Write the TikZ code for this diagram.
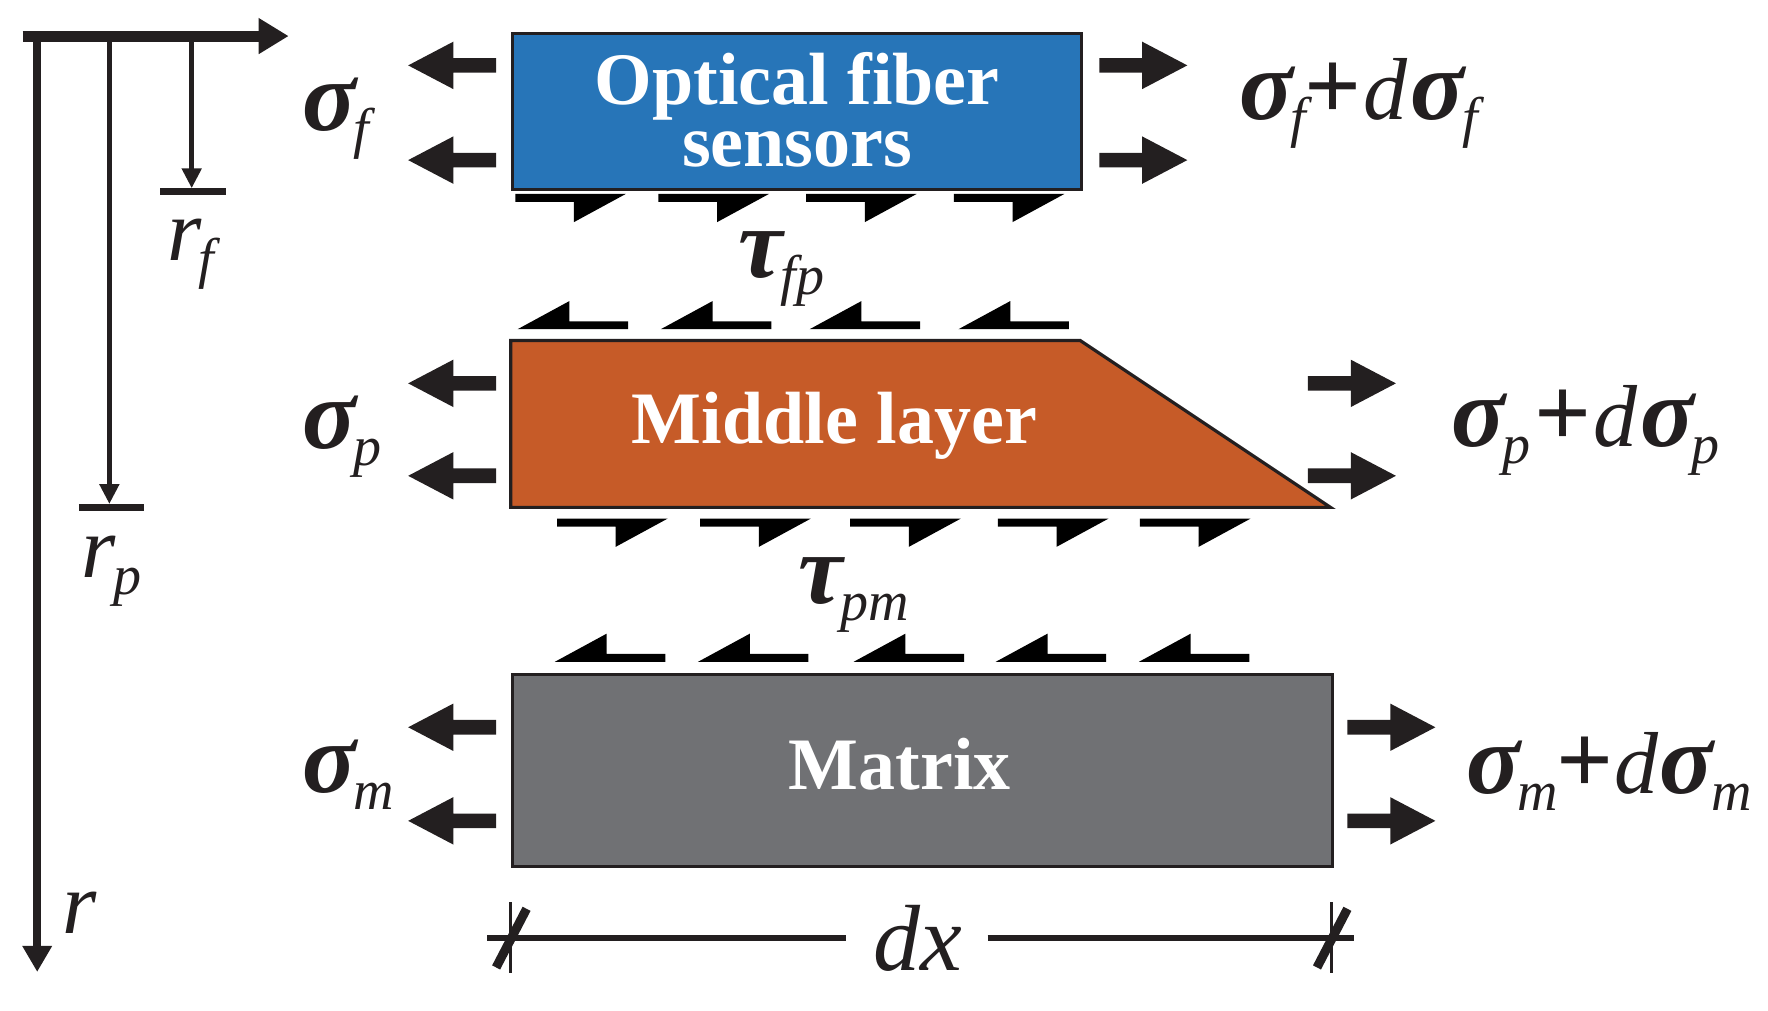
\documentclass[tikz,border=0pt]{standalone}
\usepackage{fontspec}
\setmainfont{Liberation Serif}
\usetikzlibrary{arrows.meta}
\definecolor{ink}{HTML}{231F20}
\definecolor{fiberblue}{HTML}{2775B8}
\definecolor{midorange}{HTML}{C65B28}
\definecolor{matgray}{HTML}{707174}
\newcommand\bigmath{\fontsize{44}{44}\selectfont\itshape}
\newcommand\submath{\fontsize{28}{28}\selectfont\mdseries\itshape}
\newcommand\withsub[2]{#1\kern-0.03em\raisebox{-8.5pt}{\submath #2}}
\newcommand\sg{{\fontsize{50}{50}\selectfont\bfseries\itshape σ}}
\newcommand\ta{{\fontsize{50}{50}\selectfont\bfseries\itshape τ}}
\newcommand\pl{{\fontsize{50}{50}\selectfont\bfseries\upshape +}}
\begin{document}
\begin{tikzpicture}[x=0.5638pt,y=-0.5638pt,
  layer/.style={draw=ink, line width=1.6pt},
  layertext/.style={font=\bfseries\fontsize{37}{31}\selectfont, text=white, align=center, inner sep=0},
  mathlabel/.style={font=\bigmath, text=ink, inner sep=0, anchor=base west},
  axisline/.style={draw=ink, line cap=butt},
  forceL/.pic={\fill[ink] (0,-6.5) -- (-38,-6.5) -- (-38,-21) -- (-78,0) -- (-38,21) -- (-38,6.5) -- (0,6.5) -- cycle;},
  forceR/.pic={\fill[ink] (0,-6.5) -- (38,-6.5) -- (38,-21) -- (78,0) -- (38,21) -- (38,6.5) -- (0,6.5) -- cycle;},
  shearR/.pic={\fill[black] (0,0) -- (98,0) -- (52,25) -- (52,7) -- (0,7) -- cycle;},
  shearL/.pic={\fill[black] (0,0) -- (98,0) -- (98,-7) -- (46,-7) -- (46,-25) -- cycle;},
]
\useasboundingbox (0,0) rectangle (1568,896);

% ---------- coordinate axes ----------
\coordinate (O) at (20,32);
\coordinate (xtip) at (256,32);
\coordinate (rtop) at (33,32);
\coordinate (rtip) at (33,862);
\coordinate (rptop) at (97,32);
\coordinate (rpend) at (97,447);
\coordinate (rftop) at (170,32);
\coordinate (rfend) at (170,167);
\draw[axisline, line width=5.5pt, -{Triangle[length=15pt,width=17pt]}] (O) -- (xtip);
\draw[axisline, line width=4pt, -{Triangle[length=13pt,width=14pt]}] (rtop) -- (rtip);
\draw[axisline, line width=2.5pt, -{Triangle[length=10pt,width=9.5pt]}] (rptop) -- (rpend);
\draw[axisline, line width=2.5pt, -{Triangle[length=10pt,width=9.5pt]}] (rftop) -- (rfend);
\coordinate (rpbarL) at (70,450);
\coordinate (rpbarR) at (128,450);
\coordinate (rfbarL) at (142,170);
\coordinate (rfbarR) at (200,170);
\draw[axisline, line width=3.3pt] (rpbarL) -- (rpbarR);
\draw[axisline, line width=3.3pt] (rfbarL) -- (rfbarR);
\node[mathlabel] (rf) at (148,231) {\withsub{r}{f}};
\node[mathlabel] (rp) at (72,512) {\withsub{r}{p}};
\node[mathlabel] (r) at (55,828) {r};

% ---------- layers ----------
\node[layer, fill=fiberblue, minimum width=505*0.5638pt, minimum height=139*0.5638pt, inner sep=0, anchor=north west] (fiber) at (453,28) {};
\node[layertext, anchor=base] (fibertext1) at (707,93) {Optical fiber};
\node[layertext, anchor=base] (fibertext2) at (707,148) {sensors};
\draw[layer, fill=midorange] (453,302) -- (958,302) -- (1180,450) -- (453,450) -- cycle;
\coordinate (mid) at (740,378);
\node[layertext] (midtext) at (mid) {Middle layer};
\node[layer, fill=matgray, minimum width=727*0.5638pt, minimum height=170*0.5638pt, inner sep=0, anchor=north west] (matrix) at (453,597) {};
\node[layertext] (mattext) at (798,678) {Matrix};

% ---------- normal stresses ----------
\foreach \y in {58,142} {\pic at (440,\y) {forceL}; \pic at (975,\y) {forceR};}
\foreach \y in {340,422} {\pic at (440,\y) {forceL}; \pic at (1160,\y) {forceR};}
\foreach \y in {645,728} {\pic at (440,\y) {forceL}; \pic at (1195,\y) {forceR};}

\node[mathlabel] (sf) at (268,116) {\withsub{\sg}{f}};
\node[mathlabel] (sp) at (268,398) {\withsub{\sg}{p}};
\node[mathlabel] (sm) at (268,703) {\withsub{\sg}{m}};
\node[mathlabel] (sfd) at (1099,106) {\withsub{\sg}{f}\kern-0.02em\pl\kern0.02em d\kern0.04em\withsub{\sg}{f}};
\node[mathlabel] (spd) at (1287,396) {\withsub{\sg}{p}\kern0.04em\pl\kern0.03em d\kern0.03em\withsub{\sg}{p}};
\node[mathlabel] (smd) at (1300,704) {\withsub{\sg}{m}\kern-0.02em\pl\kern0.01em d\kern0.02em\withsub{\sg}{m}};

% ---------- shear stresses ----------
\foreach \x in {457,584,715,846} {\pic at (\x,172) {shearR};}
\foreach \x in {459,586,718,850} {\pic at (\x,292) {shearL};}
\foreach \x in {494,621,754,885,1011} {\pic at (\x,460) {shearR};}
\foreach \x in {492,619,757,883,1010} {\pic at (\x,587) {shearL};}
\node[mathlabel] (tfp) at (655,246) {\withsub{\ta}{fp}};
\node[mathlabel] (tpm) at (708,535) {\withsub{\ta}{pm}};

% ---------- dx dimension ----------
\coordinate (dl) at (453,832);
\coordinate (dr) at (1181,832);
\node[font=\fontsize{47}{47}\selectfont\itshape, text=ink, inner sep=0] (dx) at (814,832) {dx};
\draw[ink, line width=3pt] (432,832) -- (750,832);
\draw[ink, line width=3pt] (876,832) -- (1201,832);
\draw[ink, line width=1.5pt] (453,800) -- (453,863);
\draw[ink, line width=1.5pt] (1181,800) -- (1181,863);
\draw[ink, line width=4.5pt] (440,858) -- (467,806);
\draw[ink, line width=4.5pt] (1168,858) -- (1195,806);
\end{tikzpicture}
\end{document}
